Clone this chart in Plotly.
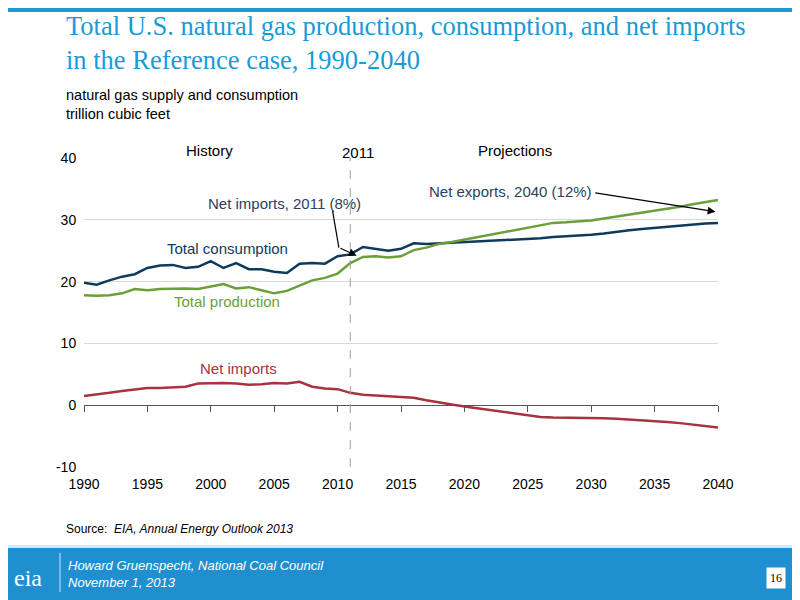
import plotly.graph_objects as go

years = list(range(1990, 2041))
consumption = [19.8, 19.5, 20.2, 20.8, 21.2, 22.2, 22.6, 22.7, 22.2, 22.4, 23.3, 22.2, 23.0, 22.0, 22.0,
               21.6, 21.4, 22.9, 23.0, 22.9, 24.1, 24.4, 25.6, 25.3, 25.0, 25.3, 26.2, 26.1, 26.2, 26.3,
               26.4, 26.4, 26.5, 26.6, 26.8, 26.9, 27.0, 27.2, 27.3, 27.4, 27.6, 27.8, 28.1, 28.3, 28.5,
               28.7, 28.9, 29.0, 29.2, 29.4, 29.5]
production = [17.8, 17.7, 17.8, 18.1, 18.8, 18.6, 18.8, 18.9, 18.9, 18.8, 19.2, 19.6, 18.9, 19.1, 18.6,
              18.1, 18.5, 19.3, 20.2, 20.6, 21.3, 23.0, 24.0, 24.1, 23.9, 24.1, 25.1, 25.5, 26.1, 26.4,
              26.8, 27.1, 27.5, 27.9, 28.4, 28.8, 29.1, 29.5, 29.6, 29.7, 29.9, 30.2, 30.5, 30.8, 31.1,
              31.4, 31.8, 32.1, 32.5, 32.8, 33.2]
net_imports = [1.5, 1.7, 2.0, 2.3, 2.5, 2.8, 2.8, 2.9, 3.0, 3.5, 3.6, 3.6, 3.5, 3.3, 3.4, 3.6, 3.5, 3.8,
               3.0, 2.7, 2.6, 2.0, 1.7, 1.6, 1.5, 1.4, 1.2, 0.8, 0.4, 0.1, -0.2, -0.5, -0.8, -1.1, -1.4,
               -1.7, -1.9, -2.0, -2.0, -2.0, -2.0, -2.1, -2.2, -2.3, -2.4, -2.5, -2.7, -2.9, -3.1, -3.3, -3.6]
x_ticks = list(range(1990, 2041, 5))
y_ticks = [-10, 0, 10, 20, 30, 40]
y_labels = ["-10", "0", "10", "20", "30", "40"]

BLUE, GREEN, RED = "#0f3a5c", "#6a9f3a", "#a8323e"
SANS = "Liberation Sans, Arial"

fig = go.Figure()
fig.add_trace(go.Scatter(x=years, y=consumption, mode="lines", line=dict(color=BLUE, width=2.5)))
fig.add_trace(go.Scatter(x=years, y=production, mode="lines", line=dict(color=GREEN, width=2.5)))
fig.add_trace(go.Scatter(x=years, y=net_imports, mode="lines", line=dict(color=RED, width=2.5)))
# invisible trace so the zero-line tick axis renders
fig.add_trace(go.Scatter(x=[1990, 2040], y=[0, 0], xaxis="x2", mode="lines",
                         line=dict(width=0), hoverinfo="skip"))

def ypx(p):
    return (467 - p) / 309

def xpx(p):
    return (p - 84) / 634

def label(text, x, y, size=14, color="black", xanchor="left", family=SANS, **kw):
    return dict(text=text, xref="paper", yref="paper", x=xpx(x), y=ypx(y), xanchor=xanchor,
                yanchor="middle", showarrow=False, font=dict(family=family, size=size, color=color), **kw)

shapes = [
    dict(type="rect", xref="paper", yref="paper", x0=xpx(-10), x1=xpx(810), y0=ypx(12), y1=ypx(-10),
         fillcolor="#1a9ad6", line_width=0, layer="below"),
    dict(type="rect", xref="paper", yref="paper", x0=xpx(-10), x1=xpx(810), y0=ypx(610), y1=ypx(547),
         fillcolor="#1f8fd0", line_width=0, layer="below"),
    dict(type="rect", xref="paper", yref="paper", x0=xpx(-10), x1=xpx(810), y0=ypx(548), y1=ypx(545),
         fillcolor="#d6ebf7", line_width=0, layer="below"),
    dict(type="line", xref="paper", yref="paper", x0=xpx(60), x1=xpx(60), y0=ypx(592), y1=ypx(553),
         line=dict(color="#cfe7f7", width=1)),
    dict(type="line", x0=2011, x1=2011, y0=-10, y1=40, line=dict(color="#a0a0a0", width=1, dash="dash")),
    dict(type="line", x0=2009.6, x1=2010.1, y0=31.5, y1=25.5, line=dict(color="black", width=1.2)),
]

annotations = [
    dict(text="Total U.S. natural gas production, consumption, and net imports<br>in the Reference case, 1990-2040",
         xref="paper", yref="paper", x=xpx(64), y=ypx(9), xanchor="left", yanchor="top", align="left",
         showarrow=False, font=dict(family="Liberation Serif, Times New Roman", size=26.5, color="#1a9ad6")),
    label("natural gas supply and consumption", 64, 95, size=14.5),
    label("trillion cubic feet", 64, 114, size=14.5),
    label("Source:  <i>EIA, Annual Energy Outlook 2013</i>", 64, 529, size=12),
    label("<i>Howard Gruenspecht, National Coal Council</i>", 66, 565, size=13, color="white"),
    label("<i>November 1, 2013</i>", 66, 582, size=13, color="white"),
    label("eia", 12, 578, size=24, color="white", family="Liberation Serif"),
    label("16", 776, 578, size=12, xanchor="center", family="Liberation Serif", bgcolor="white", borderpad=3),
    label("History", 209, 150, size=15, xanchor="center"),
    label("2011", 358, 152, size=15, xanchor="center"),
    label("Projections", 515, 150, size=15, xanchor="center"),
    dict(text="Total consumption", x=2001.3, y=25.3, showarrow=False, font=dict(family=SANS, size=15, color=BLUE)),
    dict(text="Total production", x=2001.3, y=16.7, showarrow=False, font=dict(family=SANS, size=15, color=GREEN)),
    dict(text="Net imports", x=2002.2, y=6.0, showarrow=False, font=dict(family=SANS, size=15, color=RED)),
    dict(text="Net imports, 2011 (8%)", x=2005.8, y=32.6, showarrow=False, font=dict(family=SANS, size=15)),
    dict(text="", x=2011.5, y=24.2, ax=2010.1, ay=25.5, axref="x", ayref="y", showarrow=True,
         arrowhead=2, arrowsize=1.3, arrowwidth=1.2, arrowcolor="black"),
    dict(text="Net exports, 2040 (12%)", x=2030.2, y=34.6, xanchor="right", showarrow=False,
         font=dict(family=SANS, size=15)),
    dict(text="", x=2039.8, y=31.3, ax=2030.2, ay=34.4, axref="x", ayref="y", showarrow=True,
         arrowhead=2, arrowsize=1.3, arrowwidth=1.2, arrowcolor="black"),
]

fig.update_layout(
    width=800, height=600, margin=dict(l=76, r=90, t=150, b=141),
    paper_bgcolor="white", plot_bgcolor="white", showlegend=False,
    shapes=shapes, annotations=annotations,
    xaxis=dict(range=[1990, 2040], tickvals=x_ticks, showgrid=False, showline=False, zeroline=False,
               ticks="outside", ticklen=4, tickcolor="white",
               tickfont=dict(family=SANS, size=14, color="black")),
    xaxis2=dict(range=[1990, 2040], overlaying="x", anchor="free", position=ypx(405), side="bottom",
                tickvals=x_ticks, showticklabels=False, ticks="outside", ticklen=6, tickcolor="#555",
                showline=True, linecolor="#555", linewidth=1, showgrid=False, zeroline=False),
    yaxis=dict(range=[-10, 40], tickvals=y_ticks, ticktext=y_labels, showgrid=True, gridcolor="#d9d9d9",
               zeroline=False, showline=False, ticks="outside", ticklen=4, tickcolor="white",
               tickfont=dict(family=SANS, size=14, color="black")),
)

fig.write_html("out.html")
